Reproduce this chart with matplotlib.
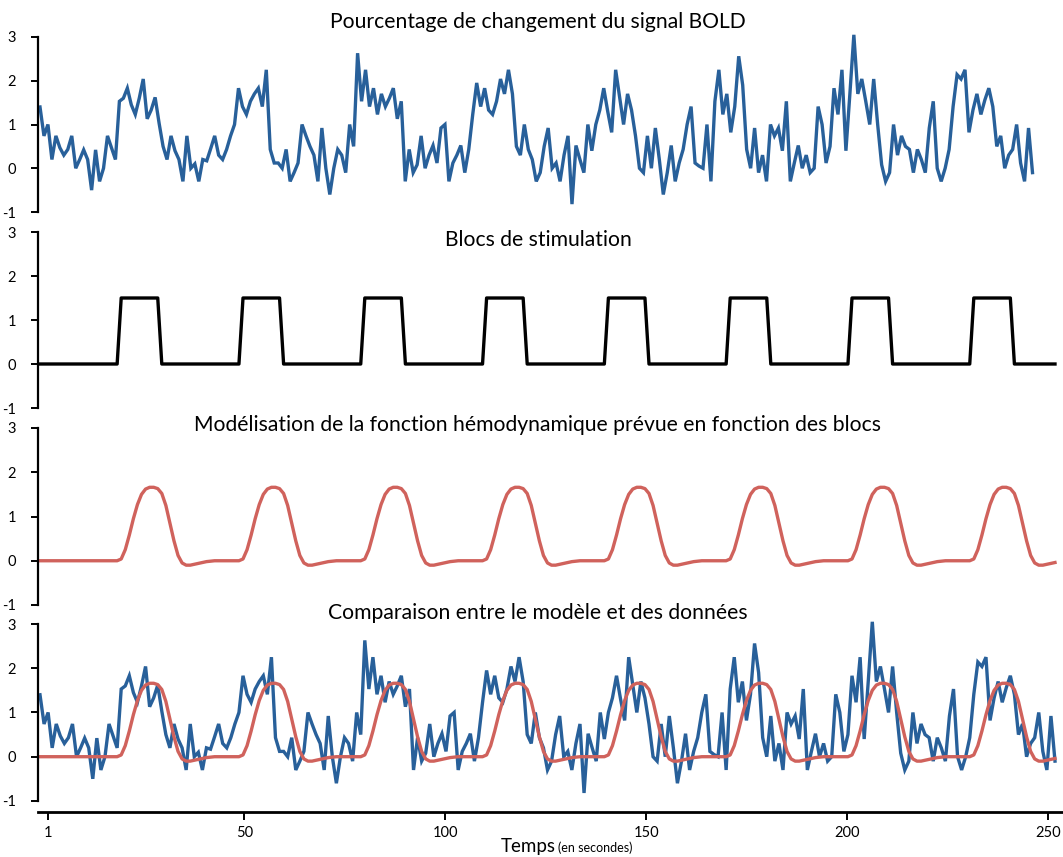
import matplotlib
matplotlib.use("Agg")
import matplotlib.pyplot as plt
import numpy as np

# ---------------- data ----------------
titles = [
    "Pourcentage de changement du signal BOLD",
    "Blocs de stimulation",
    "Modélisation de la fonction hémodynamique prévue en fonction des blocs",
    "Comparaison entre le modèle et des données",
]

bold = [
    1.4, 0.74, 1.0, 0.2, 0.74, 0.47, 0.3, 0.43, 0.74, 0.0, 0.2, 0.42, 0.2, -0.5, 0.42, -0.3, 0.0, 0.74, 0.47, 0.2,
    1.53, 1.6, 1.83, 1.45, 1.23, 1.6, 2.04, 1.13, 1.33, 1.62, 1.03, 0.5, 0.2, 0.74, 0.4, 0.2, -0.3, 0.74, 0.0, 0.1,
    -0.3, 0.2, 0.17,
    0.45, 0.74, 0.3, 0.2, 0.43, 0.74, 1.0, 1.83, 1.41, 1.23, 1.53, 1.7, 1.83, 1.41, 2.25, 0.43, 0.12, 0.12, 0.0, 0.43,
    -0.3, -0.1, 0.12, 1.0, 0.74, 0.5, 0.3, -0.3, 0.92, 0.0, -0.6, 0.0, 0.43, 0.3, -0.1, 1.0, 0.5, 2.63, 1.53, 2.25, 1.41,
    1.83, 1.23, 1.7, 1.41, 1.6, 1.83, 1.13, 1.53, -0.3, 0.43, -0.1, 0.08, 0.74, 0.0, 0.3, 0.52, 0.12, 0.92, 1.0, -0.3,
    0.12, 0.3, 0.52, -0.1, 0.43, 1.23, 1.95, 1.41, 1.83, 1.33, 1.23, 1.53, 2.04, 1.7, 2.25, 1.7, 0.5, 0.3, 1.0, 0.43, 0.2,
    -0.3, -0.1, 0.5, 0.92, 0.0, 0.12, -0.3, 0.3, 0.74, -0.82, 0.52, 0.2, -0.1, 1.0, 0.4, 1.0, 1.33, 1.83, 1.3, 0.82,
    2.25, 1.63, 1.0, 1.7, 1.33, 0.74, 0.0, -0.1, 0.74, 0.0, 0.92, 0.2, -0.6, -0.1, 0.52, -0.3, 0.12, 0.43, 1.0, 1.41,
    0.12, 0.05,
    0.0, 1.0, -0.3, 1.53, 2.25, 1.23, 1.7, 0.82, 1.41, 2.56, 1.9, 0.43, 0.0, 0.92, -0.1, 0.3, -0.3, 1.0, 0.74, 0.92,
    0.4, 1.53, -0.3, 0.12, 0.52, 0.0, 0.3, -0.1, 0.0, 1.41, 1.0, 0.12, 0.5, 1.83, 1.23, 2.25, 0.4, 1.7, 3.05, 1.7, 2.04,
    1.53, 1.0, 2.04, 1.0, 0.08, -0.3, -0.1, 1.0, 0.3, 0.74, 0.5, 0.43, -0.1, 0.43, 0.2, -0.1, 0.92, 1.53, 0.0, -0.3,
    0.0, 0.43, 1.41, 2.14, 2.04, 2.25, 0.82, 1.33, 1.7, 1.23, 1.56, 1.83, 1.41, 0.5, 0.74, 0.0, 0.3, 0.43, 1.0, 0.12,
    -0.3, 0.92, -0.1,
]

# stimulation blocks (20 s rest, then 10 s on / 20 s off)
stim = (
    [0.0] * 20
    + [1.5] * 10 + [0.0] * 20
    + [1.5] * 10 + [0.0] * 20
    + [1.5] * 10 + [0.0] * 20
    + [1.5] * 10 + [0.0] * 20
    + [1.5] * 10 + [0.0] * 20
    + [1.5] * 10 + [0.0] * 20
    + [1.5] * 10 + [0.0] * 20
    + [1.5] * 10 + [0.0] * 11
)

# predicted haemodynamic response (one response per block)
hrf_block = [0.04, 0.25, 0.58, 0.95, 1.27, 1.5, 1.62, 1.66, 1.66, 1.63, 1.52, 1.25, 0.85, 0.45, 0.12,
             -0.05, -0.1, -0.1, -0.08, -0.06, -0.04, -0.02, -0.01, 0.0, 0.0, 0.0, 0.0, 0.0, 0.0, 0.0]
model = ([0.0] * 20 + hrf_block + hrf_block + hrf_block + hrf_block + hrf_block
         + hrf_block + hrf_block + hrf_block[:21])

xtick_values = [1, 50, 100, 150, 200, 250]
ytick_values = [-1, 0, 1, 2, 3]

# ---------------- style ----------------
BLUE = "#28609A"
RED = "#D0625C"
FONT = "Lato"
plt.rcParams["font.family"] = [FONT, "DejaVu Sans"]

W, H = 1063, 857
fig = plt.figure(figsize=(W / 100, H / 100), dpi=100)

LEFT_PX = 38
X0_PX = 40.0          # pixel of first sample
STEP = 4.06           # px per sample (panels 2-4)
STEP_TOP = 3.97       # px per sample (panel 1)


def fy(py):
    return 1 - py / H


def make_axes(top_px, bottom_px, ylow, step):
    ax = fig.add_axes([LEFT_PX / W, fy(bottom_px), (W - LEFT_PX) / W, (bottom_px - top_px) / H])
    ax.set_xlim((LEFT_PX - X0_PX) / step, (W - X0_PX) / step)
    ax.set_ylim(ylow, 3)
    for s in ("top", "right"):
        ax.spines[s].set_visible(False)
    ax.spines["left"].set_bounds(-1, 3)
    ax.spines["left"].set_linewidth(1.6)
    ax.set_yticks(ytick_values)
    ax.set_yticklabels([str(v) for v in ytick_values])
    ax.tick_params(axis="y", direction="out", length=5, width=1.4, pad=11, labelsize=10.5)
    ax.patch.set_alpha(0)
    return ax


ax1 = make_axes(37, 212, -1, STEP_TOP)
ax2 = make_axes(232, 408, -1, STEP)
ax3 = make_axes(428, 605, -1, STEP)
ax4 = make_axes(624, 812, -1.25, STEP)

for ax in (ax1, ax2, ax3):
    ax.spines["bottom"].set_visible(False)
    ax.set_xticks([])

x_bold = np.arange(len(bold))
x_stim = np.arange(len(stim))
x_model = np.arange(len(model))

ax1.plot(x_bold, bold, color=BLUE, lw=2.4, clip_on=False, solid_joinstyle="miter")
ax2.plot(x_stim, stim, color="black", lw=2.4, clip_on=False)
ax3.plot(x_model, model, color=RED, lw=2.4, clip_on=False)
ax4.plot(x_bold, bold, color=BLUE, lw=2.4, clip_on=False, solid_joinstyle="miter")
ax4.plot(x_model, model, color=RED, lw=2.4, clip_on=False)

# bottom time axis
ax4.spines["bottom"].set_linewidth(2.0)
tick_px = [47.6 + (v - 1) * 4.018 for v in xtick_values]
ax4.set_xticks([(p - X0_PX) / STEP for p in tick_px])
ax4.set_xticklabels([str(v) for v in xtick_values])
ax4.tick_params(axis="x", direction="out", length=6, width=1.4, pad=4, labelsize=10.5)

title_y = [22, 240, 425, 613]
for t, y in zip(titles, title_y):
    fig.text(538 / W, fy(y), t, ha="center", va="center", fontsize=15.2)

fig.text(556 / W, fy(852), "Temps", ha="right", va="baseline", fontsize=13.5)
fig.text(558 / W, fy(852), "(en secondes)", ha="left", va="baseline", fontsize=9)

fig.savefig("out.png", dpi=100)
